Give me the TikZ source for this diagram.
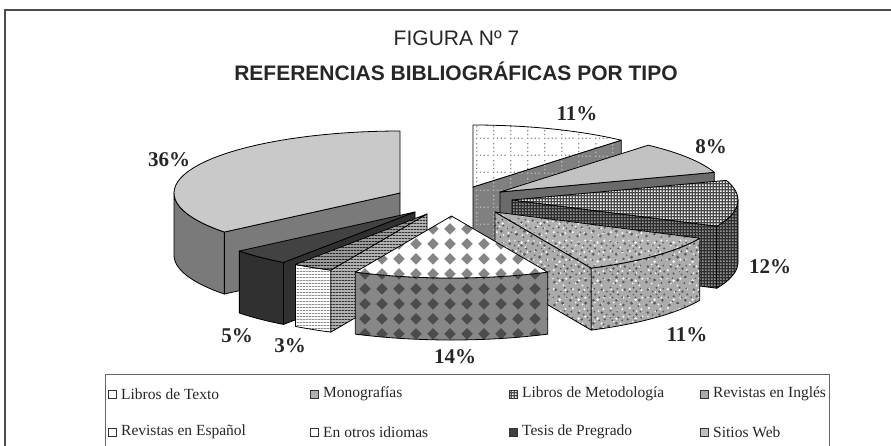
\documentclass[tikz,border=0pt]{standalone}
\usepackage{fontspec}
\setmainfont{Liberation Serif}
\newfontfamily\titlefont{Liberation Sans}
\usetikzlibrary{patterns}

% ---------- patterns (tile sizes in pt = px) ----------
\pgfdeclarepatternformonly{dotgridpat}{\pgfpoint{0pt}{0pt}}{\pgfpoint{17pt}{17pt}}{\pgfpoint{17pt}{17pt}}{%
  \pgfpathrectangle{\pgfpoint{0pt}{0pt}}{\pgfpoint{1.4pt}{1.4pt}}%
  \pgfpathrectangle{\pgfpoint{4pt}{0pt}}{\pgfpoint{1.4pt}{1.4pt}}%
  \pgfpathrectangle{\pgfpoint{8pt}{0pt}}{\pgfpoint{1.4pt}{1.4pt}}%
  \pgfpathrectangle{\pgfpoint{12pt}{0pt}}{\pgfpoint{1.4pt}{1.4pt}}%
  \pgfpathrectangle{\pgfpoint{0pt}{4pt}}{\pgfpoint{1.4pt}{1.4pt}}%
  \pgfpathrectangle{\pgfpoint{0pt}{8pt}}{\pgfpoint{1.4pt}{1.4pt}}%
  \pgfpathrectangle{\pgfpoint{0pt}{12pt}}{\pgfpoint{1.4pt}{1.4pt}}%
  \pgfusepath{fill}}
\pgfdeclarepatternformonly{finedotpat}{\pgfpoint{0pt}{0pt}}{\pgfpoint{3.4pt}{3.4pt}}{\pgfpoint{3.4pt}{3.4pt}}{%
  \pgfpathrectangle{\pgfpoint{0pt}{0pt}}{\pgfpoint{1.8pt}{1.8pt}}%
  \pgfusepath{fill}}
\pgfdeclarepatternformonly{hlinepat}{\pgfpoint{0pt}{0pt}}{\pgfpoint{3pt}{3pt}}{\pgfpoint{3pt}{3pt}}{%
  \pgfpathrectangle{\pgfpoint{0pt}{0pt}}{\pgfpoint{3pt}{1.1pt}}%
  \pgfusepath{fill}}
\pgfdeclarepatternformonly{diampat}{\pgfpoint{0pt}{0pt}}{\pgfpoint{17pt}{15pt}}{\pgfpoint{17pt}{15pt}}{%
  \pgfpathmoveto{\pgfpoint{8.5pt}{1.5pt}}%
  \pgfpathlineto{\pgfpoint{14.5pt}{7.5pt}}%
  \pgfpathlineto{\pgfpoint{8.5pt}{13.5pt}}%
  \pgfpathlineto{\pgfpoint{2.5pt}{7.5pt}}%
  \pgfpathclose
  \pgfusepath{fill}}
\pgfdeclarepatternformonly{speckdpat}{\pgfpoint{0pt}{0pt}}{\pgfpoint{23pt}{23pt}}{\pgfpoint{23pt}{23pt}}{%
  \pgfpathcircle{\pgfpoint{2.5pt}{3pt}}{1.5pt}%
  \pgfpathcircle{\pgfpoint{7pt}{12pt}}{1.3pt}%
  \pgfpathcircle{\pgfpoint{11pt}{5pt}}{1.7pt}%
  \pgfpathcircle{\pgfpoint{16pt}{17pt}}{1.4pt}%
  \pgfpathcircle{\pgfpoint{19pt}{8pt}}{1.6pt}%
  \pgfpathcircle{\pgfpoint{4pt}{19pt}}{1.5pt}%
  \pgfpathcircle{\pgfpoint{13pt}{21pt}}{1.1pt}%
  \pgfpathcircle{\pgfpoint{21pt}{14pt}}{1.2pt}%
  \pgfpathcircle{\pgfpoint{9pt}{17pt}}{1.0pt}%
  \pgfpathcircle{\pgfpoint{15pt}{11pt}}{1.1pt}%
  \pgfpathcircle{\pgfpoint{6pt}{7pt}}{0.9pt}%
  \pgfpathcircle{\pgfpoint{18pt}{2pt}}{1.0pt}%
  \pgfpathcircle{\pgfpoint{1.2pt}{11pt}}{1.0pt}%
  \pgfpathcircle{\pgfpoint{20pt}{20pt}}{1.0pt}%
  \pgfpathcircle{\pgfpoint{13pt}{14pt}}{0.9pt}%
  \pgfusepath{fill}}
\pgfdeclarepatternformonly{speckwpat}{\pgfpoint{0pt}{0pt}}{\pgfpoint{19pt}{19pt}}{\pgfpoint{19pt}{19pt}}{%
  \pgfpathcircle{\pgfpoint{3pt}{5pt}}{1.2pt}%
  \pgfpathcircle{\pgfpoint{9pt}{14pt}}{1.4pt}%
  \pgfpathcircle{\pgfpoint{15pt}{4pt}}{1.1pt}%
  \pgfpathcircle{\pgfpoint{6pt}{11pt}}{0.9pt}%
  \pgfpathcircle{\pgfpoint{13pt}{9pt}}{1.0pt}%
  \pgfpathcircle{\pgfpoint{16pt}{16pt}}{1.2pt}%
  \pgfpathcircle{\pgfpoint{2pt}{16pt}}{0.8pt}%
  \pgfpathcircle{\pgfpoint{10pt}{2pt}}{0.9pt}%
  \pgfusepath{fill}}

% ---------- pie geometry ----------
\def\RA{226}  % horizontal radius
\def\RB{62}   % vertical radius
\def\TH{62}   % thickness

% top face: apex x, apex y, angle from, angle to, style
\newcommand\topface[5]{%
  \path[#5] (#1,#2) -- plot[domain=#3:#4,samples=40] ({#1+\RA*sin(\x)},{#2-\RB*cos(\x)}) -- cycle;}
% outer curved side
\newcommand\outerside[5]{%
  \path[#5] plot[domain=#3:#4,samples=40] ({#1+\RA*sin(\x)},{#2-\RB*cos(\x)})
    -- plot[domain=#4:#3,samples=40] ({#1+\RA*sin(\x)},{#2+\TH-\RB*cos(\x)}) -- cycle;}
% radial face at one angle
\newcommand\radface[4]{%
  \path[#4] (#1,#2) -- ({#1+\RA*sin(#3)},{#2-\RB*cos(#3)})
    -- ({#1+\RA*sin(#3)},{#2+\TH-\RB*cos(#3)}) -- (#1,{#2+\TH}) -- cycle;}

\newcommand\legitem[5]{%
  \node[legbox,#4] (#1m) at (#2,#3) {};
  \node[legtext] (#1t) at ({#2+9},#3) {#5};}

\tikzset{
  edge/.style={draw=black, line width=0.8pt, line join=round},
  txtop/.style={edge, preaction={fill=white}, pattern=dotgridpat, pattern color=black!45},
  txside/.style={edge, preaction={fill=black!50}, pattern=dotgridpat, pattern color=black!28},
  motop/.style={edge, fill=black!24},
  moside/.style={edge, fill=black!58},
  metop/.style={edge, preaction={fill=black!72}, pattern=finedotpat, pattern color=white},
  meside/.style={edge, preaction={fill=black!82}, pattern=finedotpat, pattern color=black!42},
  intop/.style={edge, preaction={fill=black!30}, preaction={pattern=speckwpat, pattern color=white}, pattern=speckdpat, pattern color=black!62},
  inside/.style={edge, preaction={fill=black!33}, preaction={pattern=speckwpat, pattern color=white}, pattern=speckdpat, pattern color=black!65},
  estop/.style={edge, preaction={fill=white}, pattern=diampat, pattern color=black!48},
  esside/.style={edge, preaction={fill=black!47}, pattern=diampat, pattern color=black!70},
  ottop/.style={edge, preaction={fill=black!40}, pattern=hlinepat, pattern color=black!85},
  otrad/.style={edge, preaction={fill=black!30}, pattern=hlinepat, pattern color=black!80},
  otside/.style={edge, preaction={fill=white}, pattern=hlinepat, pattern color=black!45},
  tetop/.style={edge, fill=black!74},
  teside/.style={edge, fill=black!81},
  sitop/.style={edge, fill=black!21},
  siside/.style={edge, fill=black!52},
  pct/.style={font=\fontsize{21}{25}\selectfont\bfseries, text=black!85, inner sep=0pt},
  legbox/.style={draw=black!80, line width=0.6pt, minimum size=8pt, inner sep=0pt},
  legtext/.style={anchor=west, inner sep=0pt, font=\fontsize{15.5}{18}\selectfont, text=black!85},
}

\begin{document}
\begin{tikzpicture}[x=1pt,y=-1pt]
\useasboundingbox (0,0) rectangle (891,445);
\clip (0,0) rectangle (891,445);
\fill[white] (0,0) rectangle (891,445);
% outer frame
\draw[black!70, line width=1.5pt] (5,470) -- (5,10) -- (900,10);

% titles
\node[font=\titlefont\fontsize{21}{25}\selectfont, text=black!85] (fig) at (456.5,38) {FIGURA Nº 7};
\node[font=\titlefont\bfseries\fontsize{21}{25}\selectfont, text=black!85] (title) at (456,71.5) {REFERENCIAS BIBLIOGRÁFICAS POR TIPO};

% ---------- slices, back to front ----------
% Libros de Texto 11%
\radface{473}{187}{41}{txside}
\topface{473}{187}{0}{41}{txtop}
% Monografias 8%
\radface{500}{192}{71.5}{moside}
\topface{500}{192}{41}{71.5}{motop}
% Libros de Metodologia 12%
\radface{512}{200}{115}{meside}
\outerside{512}{200}{90}{115}{meside}
\topface{512}{200}{71.5}{115}{metop}
% Sitios Web 36%
\radface{400}{193}{231}{siside}
\outerside{400}{193}{231}{270}{siside}
\topface{400}{193}{231}{360}{sitop}
% Tesis de Pregrado 5%
\radface{415}{212}{215.6}{teside}
\outerside{415}{212}{215.6}{231}{teside}
\topface{415}{212}{215.6}{231}{tetop}
% En otros idiomas 3%
\radface{427}{214}{205.2}{otrad}
\outerside{427}{214}{205.2}{215.6}{otside}
\topface{427}{214}{205.2}{215.6}{ottop}
% Revistas en Ingles 11%
\radface{495}{212}{154.8}{inside}
\outerside{495}{212}{115}{154.8}{inside}
\topface{495}{212}{115}{154.8}{intop}
% Revistas en Espanol 14%
\outerside{451.5}{216}{154.8}{205.2}{esside}
\topface{451.5}{216}{154.8}{205.2}{estop}

% ---------- percentage labels ----------
\node[pct] (p1) at (577,114) {11\%};
\node[pct] (p2) at (711,147) {8\%};
\node[pct] (p3) at (770,267) {12\%};
\node[pct] (p4) at (687,335) {11\%};
\node[pct] (p5) at (455,357) {14\%};
\node[pct] (p6) at (290,346) {3\%};
\node[pct] (p7) at (237,336) {5\%};
\node[pct] (p8) at (169,160) {36\%};

% ---------- legend ----------
\draw[black!60, line width=0.8pt] (105,470) -- (105,374) -- (829,374) -- (829,470);
\legitem{la}{112}{394}{fill=white}{Libros de Texto}
\legitem{lb}{314}{394}{fill=black!30}{Monografías}
\legitem{lc}{513}{394}{preaction={fill=black!70}, pattern=finedotpat, pattern color=white}{Libros de Metodología}
\legitem{ld}{704}{394}{fill=black!33}{Revistas en Inglés}
\legitem{le}{112}{432}{fill=white}{Revistas en Español}
\legitem{lf}{314}{432}{fill=white}{En otros idiomas}
\legitem{lg}{513}{432}{fill=black!75}{Tesis de Pregrado}
\legitem{lh}{704}{432}{fill=black!25}{Sitios Web}
\end{tikzpicture}
\end{document}
